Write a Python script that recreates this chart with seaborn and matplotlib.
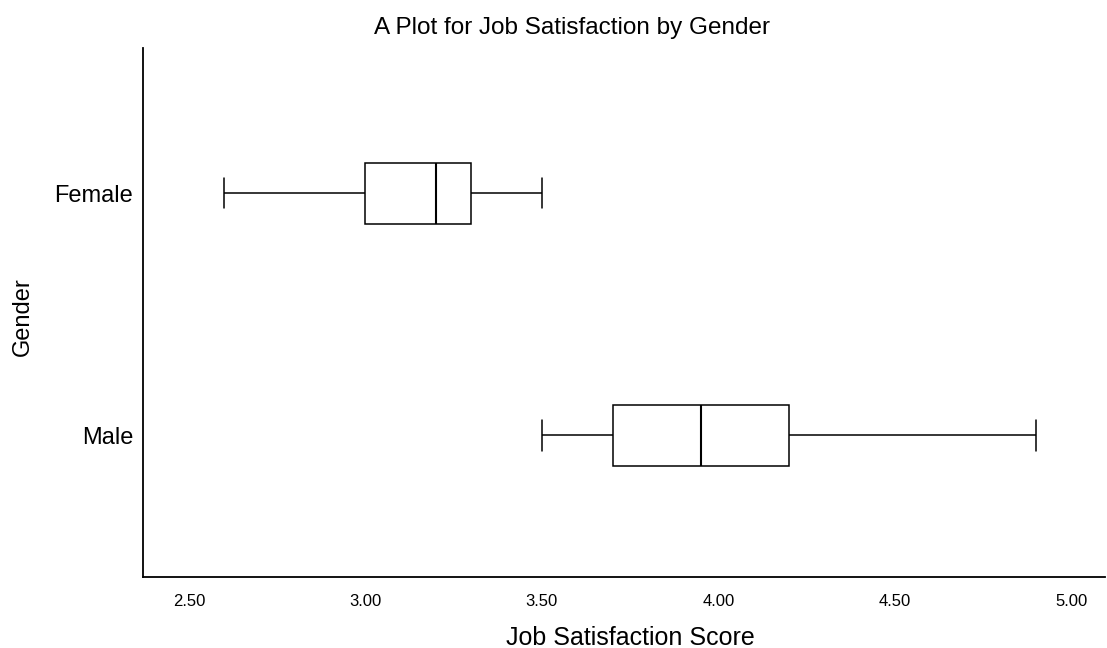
import matplotlib
matplotlib.use("Agg")
import matplotlib.pyplot as plt
import seaborn as sns
import pandas as pd

# Five-number summaries (min, Q1, median, Q3, max)
genders = ["Female", "Male"]
female_scores = [2.60, 3.00, 3.20, 3.30, 3.50]
male_scores = [3.50, 3.70, 3.95, 4.20, 4.90]
x_ticks = [2.50, 3.00, 3.50, 4.00, 4.50, 5.00]
x_tick_labels = ["2.50", "3.00", "3.50", "4.00", "4.50", "5.00"]

df = pd.DataFrame({
    "Gender": [genders[0]] * len(female_scores) + [genders[1]] * len(male_scores),
    "Score": female_scores + male_scores,
})

sns.set_theme(style="white")
plt.rcParams["font.family"] = ["Liberation Sans", "DejaVu Sans"]

W, H = 1107, 648
fig = plt.figure(figsize=(W / 100, H / 100), dpi=100)
ax_left, ax_right, ax_top, ax_bottom = 143, 1105, 48, 577
ax = fig.add_axes([ax_left / W, 1 - ax_bottom / H, (ax_right - ax_left) / W, (ax_bottom - ax_top) / H])

sns.boxplot(
    data=df, x="Score", y="Gender", order=genders, orient="h",
    color="white", linecolor="black", linewidth=1.1, width=0.25,
    whis=1.5, fliersize=0, ax=ax,
    medianprops={"linewidth": 1.5},
)

ax.set_xlim(2.37, 5.095)
ax.set_ylim(1.585, -0.60)
ax.set_xticks(x_ticks)
ax.set_xticklabels(x_tick_labels, fontsize=12)
ax.tick_params(axis="x", length=0, pad=12, colors="black")
ax.tick_params(axis="y", length=0, pad=7, labelsize=17, colors="black")

for side in ["top", "right"]:
    ax.spines[side].set_visible(False)
for side in ["left", "bottom"]:
    ax.spines[side].set_color("black")
    ax.spines[side].set_linewidth(1.3)

ax.set_xlabel("Job Satisfaction Score", fontsize=18, color="black", va="center")
ax.xaxis.set_label_coords((630 - ax_left) / (ax_right - ax_left), (ax_bottom - 638) / (ax_bottom - ax_top))
ax.set_ylabel("Gender", fontsize=17, color="black", va="center")
ax.yaxis.set_label_coords((23 - ax_left) / (ax_right - ax_left), (ax_bottom - 317) / (ax_bottom - ax_top))

fig.text(572 / W, 1 - 28 / H, "A Plot for Job Satisfaction by Gender",
         ha="center", va="center", fontsize=17.5, color="black")

fig.savefig("out.png", dpi=100, facecolor="white")
